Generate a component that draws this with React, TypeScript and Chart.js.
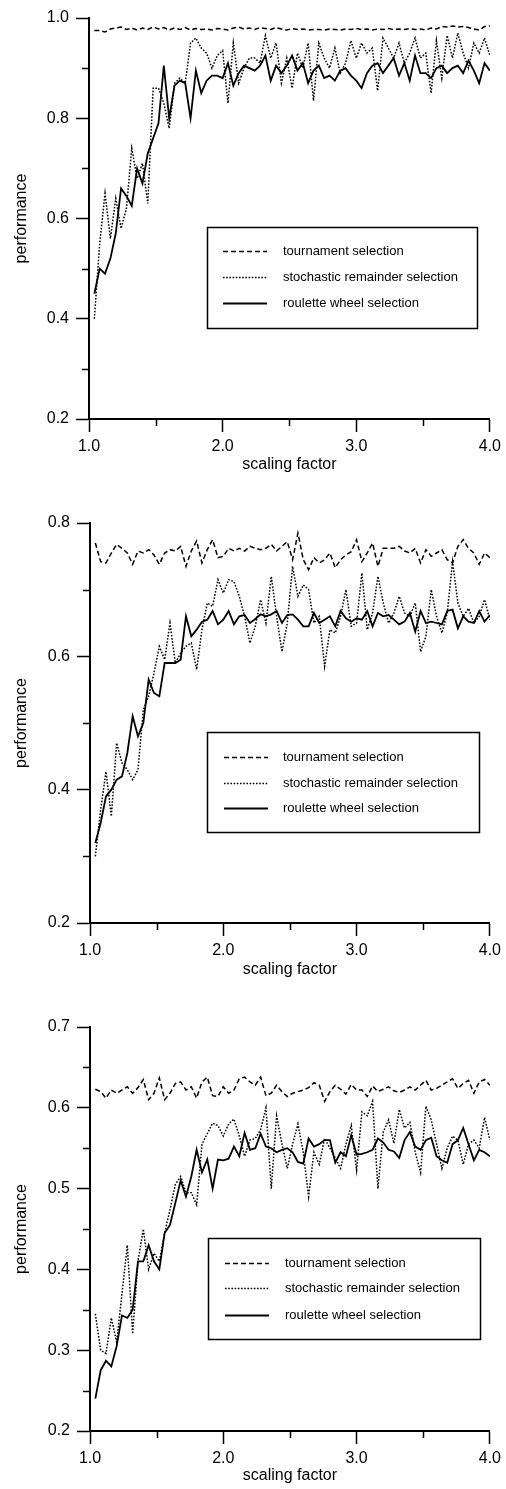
import React, { useEffect, useRef } from 'react';
import Chart from 'chart.js/auto';

const FONT = '"Liberation Sans", Arial, Helvetica, sans-serif';
const INK = '#000000';

// ---------- shared categories ----------
const SCALING_FACTOR = [
  1.04, 1.08, 1.12, 1.16, 1.20, 1.24, 1.28, 1.32, 1.36, 1.40,
  1.44, 1.48, 1.52, 1.56, 1.60, 1.64, 1.68, 1.72, 1.76, 1.80,
  1.84, 1.88, 1.92, 1.96, 2.00, 2.04, 2.08, 2.12, 2.16, 2.20,
  2.24, 2.28, 2.32, 2.36, 2.40, 2.44, 2.48, 2.52, 2.56, 2.60,
  2.64, 2.68, 2.72, 2.76, 2.80, 2.84, 2.88, 2.92, 2.96, 3.00,
  3.04, 3.08, 3.12, 3.16, 3.20, 3.24, 3.28, 3.32, 3.36, 3.40,
  3.44, 3.48, 3.52, 3.56, 3.60, 3.64, 3.68, 3.72, 3.76, 3.80,
  3.84, 3.88, 3.92, 3.96, 4.00,
];
const X_MINOR_TICKS = [1.5, 2.5, 3.5];
const LEGEND_LABELS = ['tournament selection', 'stochastic remainder selection', 'roulette wheel selection'];
const X_TITLE = 'scaling factor';
const Y_TITLE = 'performance';

// ---------- panel 1 ----------
const P1_TOURNAMENT = [
  .975, .975, .972, .978, .980, .982, .977, .980, .976, .980,
  .977, .982, .978, .981, .976, .980, .977, .981, .976, .979,
  .977, .978, .976, .979, .978, .976, .980, .982, .978, .980,
  .977, .981, .979, .977, .981, .978, .976, .979, .977, .978,
  .976, .977, .977, .976, .978, .977, .976, .978, .977, .979,
  .977, .978, .976, .978, .977, .979, .977, .978, .977, .979,
  .977, .978, .976, .980, .978, .983, .982, .984, .982, .983,
  .981, .978, .976, .983, .984,
];
const P1_STOCHASTIC = [
  .40, .55, .65, .56, .64, .58, .62, .74, .68, .71,
  .63, .86, .86, .83, .78, .87, .88, .87, .95, .96,
  .94, .93, .90, .925, .935, .83, .95, .87, .90, .92,
  .92, .91, .965, .92, .95, .87, .92, .86, .93, .90,
  .95, .835, .95, .92, .90, .94, .89, .91, .955, .92,
  .95, .93, .94, .855, .96, .94, .92, .95, .91, .93,
  .96, .92, .93, .85, .955, .88, .965, .92, .97, .93,
  .90, .95, .93, .96, .925,
];
const P1_ROULETTE = [
  .45, .50, .49, .52, .57, .66, .645, .625, .70, .67,
  .73, .76, .79, .905, .80, .865, .875, .87, .80, .895,
  .85, .875, .885, .885, .88, .91, .865, .89, .905, .90,
  .895, .905, .925, .875, .905, .89, .905, .925, .895, .91,
  .87, .895, .905, .88, .885, .875, .895, .90, .885, .875,
  .86, .89, .905, .91, .89, .905, .92, .885, .91, .875,
  .925, .89, .89, .88, .90, .905, .89, .90, .905, .89,
  .915, .895, .87, .91, .895,
];
const P1_Y_RANGE = [0.2, 1.0];
const P1_Y_STEP = 0.2;
const P1_Y_MINOR_TICKS = [0.3, 0.5, 0.7, 0.9];

// ---------- panel 2 ----------
const P2_TOURNAMENT = [
  .77, .742, .74, .755, .768, .762, .755, .738, .758, .755,
  .76, .752, .738, .755, .76, .758, .765, .735, .758, .773,
  .74, .76, .775, .748, .75, .762, .758, .762, .758, .765,
  .762, .76, .762, .768, .758, .765, .772, .745, .785, .745,
  .73, .748, .74, .745, .755, .733, .745, .752, .757, .775,
  .742, .755, .77, .735, .762, .762, .762, .765, .758, .755,
  .762, .74, .76, .75, .755, .76, .745, .74, .765, .775,
  .762, .755, .738, .755, .748,
];
const P2_STOCHASTIC = [
  .30, .37, .427, .36, .47, .44, .43, .415, .43, .52,
  .54, .575, .615, .595, .65, .59, .605, .615, .62, .58,
  .64, .68, .675, .715, .695, .715, .712, .69, .66, .62,
  .645, .685, .65, .72, .66, .607, .65, .735, .69, .707,
  .70, .65, .66, .585, .64, .635, .66, .70, .645, .65,
  .725, .64, .665, .72, .68, .65, .665, .69, .665, .66,
  .68, .607, .63, .70, .66, .635, .665, .742, .68, .66,
  .672, .65, .66, .685, .655,
];
const P2_ROULETTE = [
  .32, .35, .39, .40, .415, .42, .455, .51, .48, .50,
  .565, .545, .54, .59, .59, .59, .595, .66, .63, .64,
  .652, .655, .668, .648, .655, .668, .648, .66, .662, .65,
  .656, .663, .66, .663, .668, .65, .662, .663, .655, .645,
  .645, .665, .65, .655, .66, .645, .668, .657, .652, .657,
  .655, .668, .645, .665, .66, .662, .655, .648, .652, .665,
  .637, .668, .65, .652, .65, .648, .668, .67, .642, .66,
  .652, .65, .668, .652, .662,
];
const P2_Y_RANGE = [0.2, 0.8];
const P2_Y_STEP = 0.2;
const P2_Y_MINOR_TICKS = [0.3, 0.5, 0.7];

// ---------- panel 3 ----------
const P3_TOURNAMENT = [
  .623, .62, .612, .622, .618, .622, .626, .618, .625, .635,
  .61, .618, .637, .61, .618, .63, .632, .622, .626, .612,
  .632, .638, .615, .614, .626, .618, .622, .636, .638, .632,
  .628, .638, .615, .618, .628, .62, .614, .618, .62, .622,
  .625, .631, .628, .608, .62, .628, .623, .617, .629, .622,
  .622, .614, .627, .62, .623, .626, .621, .619, .622, .626,
  .622, .628, .634, .622, .624, .628, .632, .636, .624, .63,
  .634, .618, .632, .635, .628,
];
const P3_STOCHASTIC = [
  .345, .30, .296, .34, .31, .37, .43, .32, .41, .45,
  .40, .42, .41, .445, .474, .505, .515, .495, .495, .48,
  .555, .568, .581, .578, .565, .58, .586, .565, .54, .56,
  .562, .573, .60, .50, .59, .555, .525, .555, .58, .545,
  .49, .545, .53, .562, .55, .538, .525, .555, .578, .523,
  .595, .59, .608, .50, .57, .585, .556, .598, .575, .582,
  .545, .52, .602, .585, .555, .525, .55, .565, .56, .53,
  .555, .56, .55, .588, .56,
];
const P3_ROULETTE = [
  .24, .275, .287, .28, .305, .343, .34, .35, .41, .41,
  .43, .41, .40, .445, .455, .482, .51, .49, .515, .548,
  .52, .536, .50, .536, .535, .537, .552, .54, .569, .548,
  .55, .568, .552, .55, .545, .548, .55, .545, .533, .531,
  .562, .552, .555, .56, .56, .532, .545, .54, .566, .542,
  .543, .545, .548, .562, .557, .548, .546, .538, .56, .57,
  .552, .548, .56, .563, .54, .535, .532, .555, .56, .575,
  .555, .535, .548, .545, .54,
];
const P3_Y_RANGE = [0.2, 0.7];
const P3_Y_STEP = 0.1;
const P3_Y_MINOR_TICKS = [0.25, 0.35, 0.45, 0.55, 0.65];

// ---------- layout (page pixels) ----------
type Spec = {
  top: number; height: number;
  plot: { left: number; right: number; top: number; bottom: number };
  titleCenter: number;
  yRange: number[]; yStep: number; yMinor: number[];
  tournament: number[]; stochastic: number[]; roulette: number[];
  legend: { x: number; y: number; w: number; h: number; rows: number[]; line: number[]; textX: number };
};

const PANELS: Spec[] = [
  {
    top: 0, height: 484,
    plot: { left: 89, right: 493, top: 18, bottom: 419 },
    titleCenter: 465,
    yRange: P1_Y_RANGE, yStep: P1_Y_STEP, yMinor: P1_Y_MINOR_TICKS,
    tournament: P1_TOURNAMENT, stochastic: P1_STOCHASTIC, roulette: P1_ROULETTE,
    legend: { x: 207, y: 227, w: 270, h: 101, rows: [251, 277, 303], line: [223, 267], textX: 283 },
  },
  {
    top: 484, height: 502,
    plot: { left: 90, right: 494, top: 523, bottom: 923 },
    titleCenter: 970,
    yRange: P2_Y_RANGE, yStep: P2_Y_STEP, yMinor: P2_Y_MINOR_TICKS,
    tournament: P2_TOURNAMENT, stochastic: P2_STOCHASTIC, roulette: P2_ROULETTE,
    legend: { x: 207, y: 732, w: 272, h: 100, rows: [757, 783, 808], line: [224, 268], textX: 283 },
  },
  {
    top: 986, height: 503,
    plot: { left: 90, right: 497, top: 1027, bottom: 1431 },
    titleCenter: 1476,
    yRange: P3_Y_RANGE, yStep: P3_Y_STEP, yMinor: P3_Y_MINOR_TICKS,
    tournament: P3_TOURNAMENT, stochastic: P3_STOCHASTIC, roulette: P3_ROULETTE,
    legend: { x: 208, y: 1238, w: 272, h: 101, rows: [1263, 1288, 1315], line: [225, 269], textX: 285 },
  },
];

const DASH_TOURNAMENT = [5, 3];
const DASH_STOCHASTIC = [1.6, 1.6];
const DASH_ROULETTE: number[] = [];

function Panel({ spec }: { spec: Spec }) {
  const ref = useRef<HTMLCanvasElement>(null);

  useEffect(() => {
    const canvas = ref.current;
    if (!canvas) return;
    const H = spec.height;
    const tickFont = { family: FONT, size: 16 };
    const titleFont = { family: FONT, size: 16 };
    const lh = 16 * 1.2;
    const titlePadBottom = spec.top + H - lh / 2 - spec.titleCenter;

    const toPts = (arr: number[]) => SCALING_FACTOR.map((x, i) => ({ x, y: arr[i] }));

    const minorTicks = {
      id: 'minorTicks',
      afterDraw(chart: any) {
        const { ctx } = chart;
        const xs = chart.scales.x;
        const ys = chart.scales.y;
        ctx.save();
        ctx.strokeStyle = INK;
        ctx.lineWidth = 1.5;
        ctx.beginPath();
        spec.yMinor.forEach((v) => {
          const y = Math.round(ys.getPixelForValue(v)) + 0.5;
          ctx.moveTo(ys.right - 7, y);
          ctx.lineTo(ys.right, y);
        });
        X_MINOR_TICKS.forEach((v) => {
          const x = Math.round(xs.getPixelForValue(v)) + 0.5;
          ctx.moveTo(x, xs.top);
          ctx.lineTo(x, xs.top + 7);
        });
        ctx.stroke();
        ctx.restore();
      },
    };

    const boxLegend = {
      id: 'boxLegend',
      afterDraw(chart: any) {
        const { ctx } = chart;
        const L = spec.legend;
        const oy = spec.top;
        ctx.save();
        ctx.strokeStyle = INK;
        ctx.lineWidth = 1.5;
        ctx.setLineDash([]);
        ctx.strokeRect(L.x + 0.5, L.y - oy + 0.5, L.w, L.h);
        const dashes = [DASH_TOURNAMENT, DASH_STOCHASTIC, DASH_ROULETTE];
        const widths = [1.5, 1.5, 2];
        ctx.font = `13px ${FONT}`;
        ctx.fillStyle = INK;
        ctx.textBaseline = 'middle';
        ctx.textAlign = 'left';
        LEGEND_LABELS.forEach((label, i) => {
          const y = L.rows[i] - oy + 0.5;
          ctx.setLineDash(dashes[i]);
          ctx.lineWidth = widths[i];
          ctx.beginPath();
          ctx.moveTo(L.line[0], y);
          ctx.lineTo(L.line[1], y);
          ctx.stroke();
          ctx.fillText(label, L.textX, y);
        });
        ctx.restore();
      },
    };

    const chart = new Chart(canvas, {
      type: 'line',
      data: {
        datasets: [
          {
            label: LEGEND_LABELS[2],
            data: toPts(spec.roulette),
            borderColor: INK,
            borderWidth: 1.8,
            borderDash: DASH_ROULETTE,
            pointRadius: 0,
            tension: 0,
            fill: false,
          },
          {
            label: LEGEND_LABELS[1],
            data: toPts(spec.stochastic),
            borderColor: INK,
            borderWidth: 1.5,
            borderDash: DASH_STOCHASTIC,
            pointRadius: 0,
            tension: 0,
            fill: false,
          },
          {
            label: LEGEND_LABELS[0],
            data: toPts(spec.tournament),
            borderColor: INK,
            borderWidth: 1.5,
            borderDash: DASH_TOURNAMENT,
            pointRadius: 0,
            tension: 0,
            fill: false,
          },
        ],
      },
      options: {
        responsive: false,
        animation: false,
        devicePixelRatio: 1,
        events: [],
        layout: {
          padding: { left: 0, right: 506 - spec.plot.right, top: spec.plot.top - spec.top, bottom: 0 },
        },
        plugins: { legend: { display: false }, tooltip: { enabled: false } },
        scales: {
          x: {
            type: 'linear',
            position: 'bottom',
            min: 1,
            max: 4,
            ticks: {
              stepSize: 1,
              callback: (v: any) => Number(v).toFixed(1),
              font: tickFont,
              color: INK,
              padding: 5,
              maxRotation: 0,
              autoSkip: false,
            },
            grid: { drawOnChartArea: false, drawTicks: true, tickLength: 13, tickColor: INK, tickWidth: 1.5 },
            border: { display: true, color: INK, width: 2 },
            title: {
              display: true,
              text: X_TITLE,
              font: titleFont,
              color: INK,
              padding: { top: 0, bottom: titlePadBottom },
            },
            afterFit: (s: any) => {
              s.height = H - (spec.plot.bottom - spec.top);
            },
          },
          y: {
            type: 'linear',
            position: 'left',
            min: spec.yRange[0],
            max: spec.yRange[1],
            ticks: {
              stepSize: spec.yStep,
              callback: (v: any) => Number(v).toFixed(1),
              font: tickFont,
              color: INK,
              padding: 7,
            },
            grid: { drawOnChartArea: false, drawTicks: true, tickLength: 13, tickColor: INK, tickWidth: 1.5 },
            border: { display: true, color: INK, width: 2 },
            title: {
              display: true,
              text: Y_TITLE,
              font: titleFont,
              color: INK,
              padding: { top: 12, bottom: 0 },
            },
            afterFit: (s: any) => {
              s.width = spec.plot.left;
            },
          },
        },
      },
      plugins: [minorTicks, boxLegend],
    } as any);

    return () => chart.destroy();
  }, [spec]);

  return (
    <canvas
      ref={ref}
      width={506}
      height={spec.height}
      style={{ position: 'absolute', left: 0, top: spec.top, display: 'block' }}
    />
  );
}

export default function App() {
  return (
    <div style={{ position: 'absolute', left: 0, top: 0, width: 506, height: 1489, background: '#fff', overflow: 'hidden' }}>
      {PANELS.map((spec, i) => (
        <Panel key={i} spec={spec} />
      ))}
    </div>
  );
}
